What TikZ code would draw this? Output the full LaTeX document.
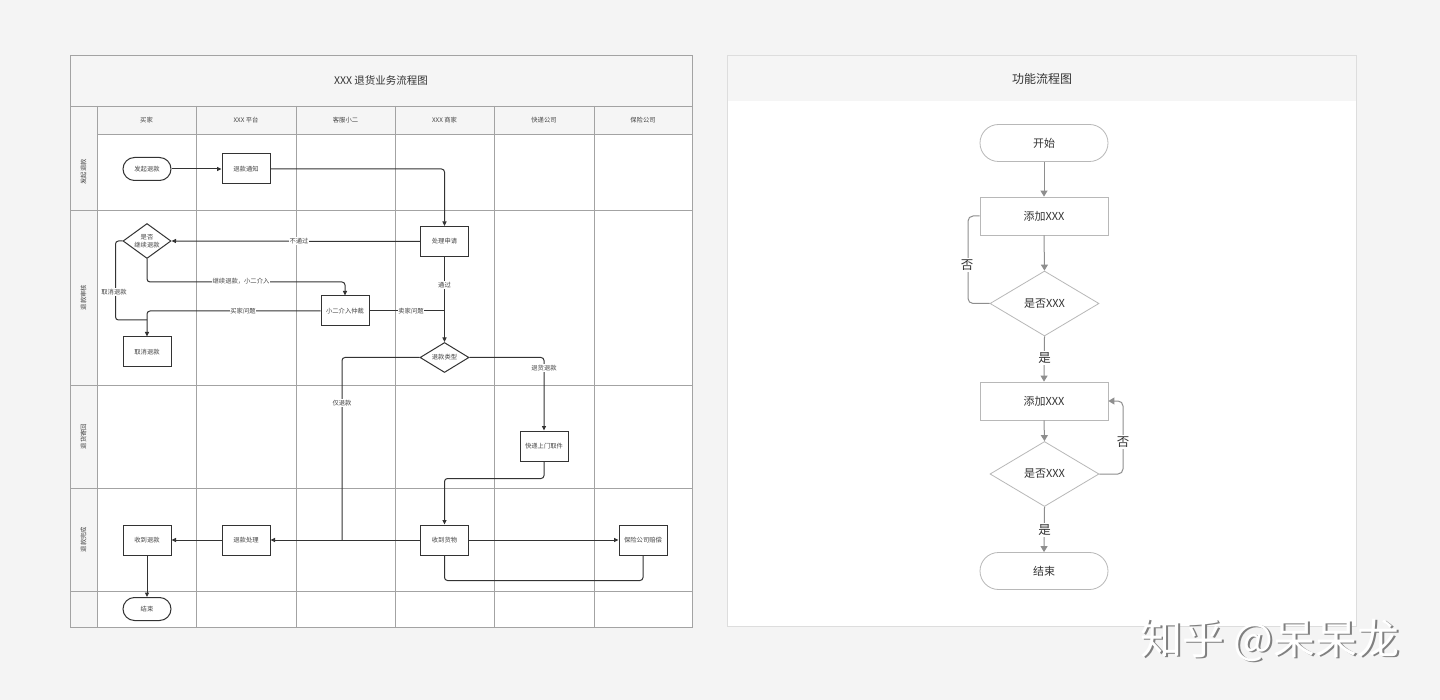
\documentclass[tikz,border=0pt]{standalone}
\usepackage{fontspec}
\setmainfont{Noto Sans CJK SC}
\newfontfamily\cjk{Noto Sans CJK SC}
\usetikzlibrary{shapes.geometric,arrows.meta}
\definecolor{pagebg}{HTML}{F4F4F4}
\definecolor{bandbg}{HTML}{F5F5F5}
\definecolor{gridc}{HTML}{A3A3A3}
\definecolor{ldark}{HTML}{333333}
\definecolor{ltext}{HTML}{444444}
\definecolor{rborder}{HTML}{B8B8B8}
\definecolor{rline}{HTML}{8E8E8E}
\definecolor{rtext}{HTML}{333333}
\definecolor{pborder}{HTML}{DDDDDD}
\tikzset{
  gridline/.style={draw=gridc, line width=0.8pt},
  lsmall/.style={font=\cjk\fontsize{6.3}{7.5}\selectfont, text=ltext},
  lbox/.style={draw=ldark, line width=1pt, fill=white, minimum width=48, minimum height=30, inner sep=1pt, lsmall},
  lterm/.style={lbox, minimum height=23, rounded corners=11.5pt},
  ldia/.style={draw=ldark, line width=1pt, fill=white, diamond, aspect=1.45, inner sep=0pt, lsmall, align=center},
  lline/.style={draw=ldark, line width=1pt, rounded corners=3pt},
  larr/.style={lline, -{Triangle[length=4.5pt,width=4pt]}},
  llab/.style={lsmall, fill=white, inner sep=0.8pt},
  hdr/.style={lsmall},
  rowlab/.style={lsmall, rotate=90},
  rnode/.style={draw=rborder, line width=0.8pt, fill=white, font=\cjk\fontsize{11}{13}\selectfont, text=rtext},
  rbox/.style={rnode, minimum width=128, minimum height=38},
  rterm/.style={rbox, minimum height=37, rounded corners=18.5pt},
  rdia/.style={rnode, diamond, aspect=1.68, inner sep=0pt, minimum width=109, minimum height=65},
  rl/.style={draw=rline, line width=1pt, rounded corners=5pt},
  rarr/.style={rl, -{Triangle[length=6pt,width=7pt]}},
  rlab/.style={font=\cjk\fontsize{12.5}{14}\selectfont, text=rtext, fill=white, inner sep=1.5pt},
  wmark/.style={font=\cjk\fontsize{42}{44}\selectfont},
}
\begin{document}
\begin{tikzpicture}[x=1pt,y=-1pt]
\useasboundingbox (0,0) rectangle (1440,700);
\fill[pagebg] (0,0) rectangle (1440,700);

% ================= left panel =================
\fill[white] (70,55) rectangle (692,627);
\fill[bandbg] (70,55) rectangle (692,106);
\fill[bandbg] (97,106) rectangle (692,134);
\fill[bandbg] (70,106) rectangle (97,627);
\draw[gridline] (70,55) rectangle (692,627);
\draw[gridline] (70,106) -- (692,106);
\draw[gridline] (97,134) -- (692,134);
\foreach \yy in {210,385,488,591} \draw[gridline] (70,\yy) -- (692,\yy);
\foreach \xx in {97,196,296,395,494,594} \draw[gridline] (\xx,106) -- (\xx,627);

\node[font=\cjk\fontsize{10.5}{12}\selectfont, text=rtext] (ltitle) at (381,80) {XXX 退货业务流程图};
\node[hdr] (h1) at (146.5,120) {买家};
\node[hdr] (h2) at (246,120) {XXX 平台};
\node[hdr] (h3) at (345.5,120) {客服小二};
\node[hdr] (h4) at (444.5,120) {XXX 商家};
\node[hdr] (h5) at (544,120) {快递公司};
\node[hdr] (h6) at (643,120) {保险公司};
\node[rowlab] (r1) at (83.5,172) {发起退款};
\node[rowlab] (r2) at (83.5,297.5) {退款审核};
\node[rowlab] (r3) at (83.5,436.5) {退货寄回};
\node[rowlab] (r4) at (83.5,539.5) {退款完成};

% nodes
\node[lterm] (fq) at (147,169) {发起退款};
\node[lbox] (tz) at (246,169) {退款通知};
\node[lbox] (sq) at (444.5,241.5) {处理申请};
\node[ldia, minimum width=48, minimum height=35] (sf) at (147,241) {是否\\继续退款};
\node[lbox] (xe) at (345,311) {小二介入仲裁};
\node[lbox] (qx) at (147,352) {取消退款};
\node[ldia, minimum width=49, minimum height=30] (lx) at (444.5,357.5) {退款类型};
\node[lbox] (kd) at (544,446) {快递上门取件};
\node[lbox] (sh) at (444.5,540) {收到货物};
\node[lbox] (bx) at (643,540) {保险公司赔偿};
\node[lbox] (tc) at (246,540) {退款处理};
\node[lbox] (sk) at (147,540) {收到退款};
\node[lterm] (js) at (147,609) {结束};

% connectors
\draw[larr] (fq.east) -- (tz.west);
\draw[larr] (tz.east) -| (sq.north);
\draw[larr] (sq.west) -- (sf.east);
\draw[larr] (sf.south) -- ++(0,23) -| (xe.north);
\draw[lline] (sf.west) -- ++(-7,0) |- (147,320);
\draw[larr] (xe.west) -| (qx.north);
\draw[lline] (xe.east) -- (444.5,311);
\draw[larr] (sq.south) -- (lx.north);
\draw[larr] (lx.east) -| (kd.north);
\draw[lline] (lx.west) -| (342,540);
\draw[larr] (kd.south) -- ++(0,17) -| (sh.north);
\draw[larr] (sh.west) -- (tc.east);
\draw[larr] (sh.east) -- (bx.west);
\draw[lline] (sh.south) -- ++(0,25) -| (bx.south);
\draw[larr] (tc.west) -- (sk.east);
\draw[larr] (sk.south) -- (js.north);

% labels
\node[llab] (l1) at (299,241) {不通过};
\node[llab] (l2) at (241,281) {继续退款，小二介入};
\node[llab] (l3) at (114,292) {取消退款};
\node[llab] (l4) at (243,311) {买家问题};
\node[llab] (l5) at (411,311) {卖家问题};
\node[llab] (l6) at (444.5,285) {通过};
\node[llab] (l7) at (544,368) {退货退款};
\node[llab] (l8) at (342,403) {仅退款};

% ================= right panel =================
\fill[white] (727,55) rectangle (1356,626);
\fill[bandbg] (727,55) rectangle (1356,101);
\draw[pborder, line width=0.8pt] (727,55) rectangle (1356,626);
\node[font=\cjk\fontsize{12}{14}\selectfont, text=rtext] (rtitle) at (1042,79) {功能流程图};

\node[rterm] (ks) at (1044,143) {开始};
\node[rbox] (a1) at (1044,216) {添加XXX};
\node[rdia] (d1) at (1044.5,303.5) {是否XXX};
\node[rbox] (a2) at (1044,401) {添加XXX};
\node[rdia] (d2) at (1044.5,474) {是否XXX};
\node[rterm] (re) at (1044,571) {结束};

\draw[rarr] (ks.south) -- (a1.north);
\draw[rarr] (a1.south) -- (d1.north);
\draw[rl] (d1.west) -- (968,303.5) -- (968,216) -- (a1.west);
\draw[rarr] (d1.south) -- (a2.north);
\draw[rarr] (a2.south) -- (d2.north);
\draw[rarr] (d2.east) -- (1123,474) -- (1123,401) -- (a2.east);
\draw[rarr] (d2.south) -- (re.north);

\node[rlab] (n1) at (967,265) {否};
\node[rlab] (y1) at (1044.5,358) {是};
\node[rlab] (n2) at (1123,442) {否};
\node[rlab] (y2) at (1044.5,530) {是};

% watermark
\node[wmark, text=black!50] (wms) at (1271.8,641.8) {知乎 @呆呆龙};
\node[wmark, text=white] (wm) at (1270,640) {知乎 @呆呆龙};
\end{tikzpicture}
\end{document}
